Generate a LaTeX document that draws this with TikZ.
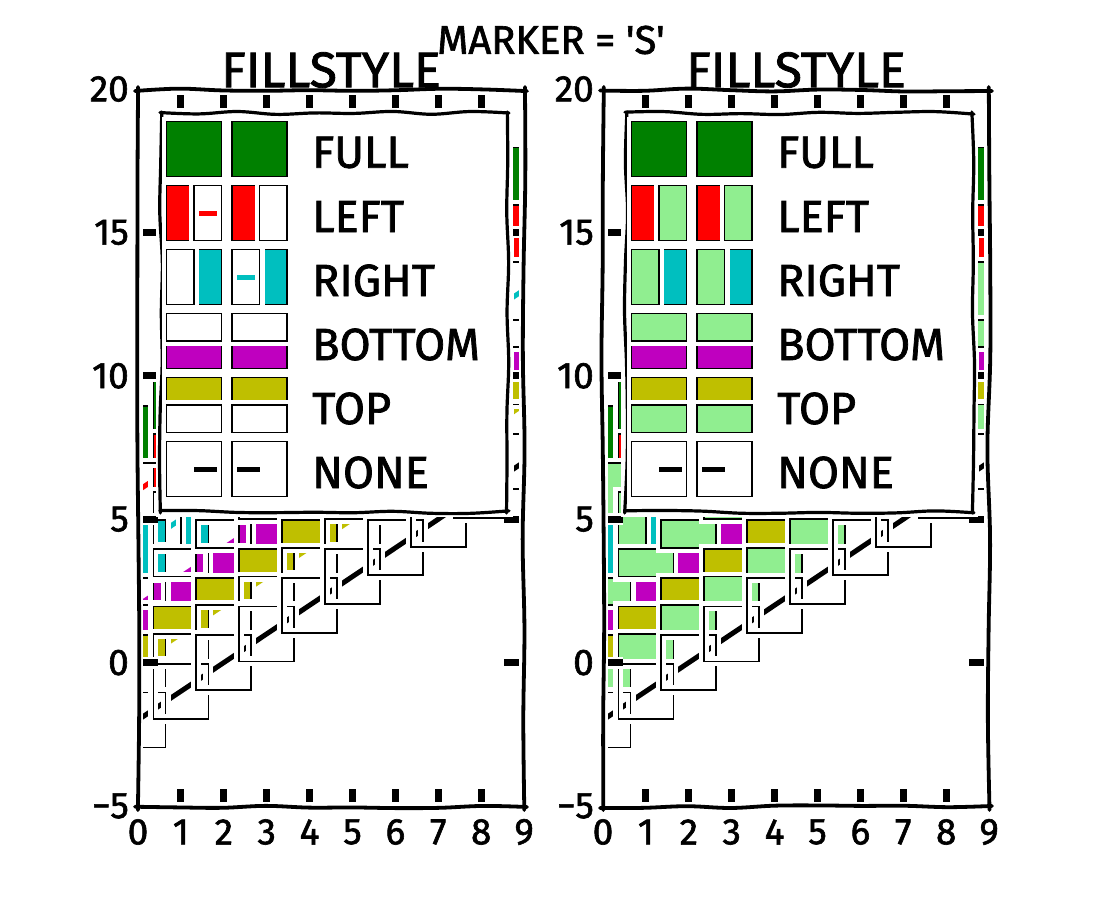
\documentclass[tikz,border=0pt]{standalone}
\usepackage{fontspec}
\setmainfont{Fira Sans}
\newfontfamily\hand{Fira Sans}[FakeBold=1.6]
\definecolor{mg}{rgb}{0,0.5,0}
\definecolor{mr}{rgb}{1,0,0}
\definecolor{mc}{rgb}{0,0.75,0.75}
\definecolor{mm}{rgb}{0.75,0,0.75}
\definecolor{my}{rgb}{0.75,0.75,0}
\definecolor{lgreen}{HTML}{90EE90}
\tikzset{
  spine/.style={draw=black, line width=3.8pt, line cap=round},
  legedge/.style={draw=black, line width=3.2pt, line cap=round},
  tickm/.style={draw=black, line width=7pt, preaction={draw=white, line width=12pt}},
  wst/.style={draw=white, line width=10pt},
  medge/.style={draw=black, line width=1.8pt},
  dline/.style={line width=5pt, preaction={draw=white, line width=10pt}},
  ticklab/.style={font=\hand\fontsize{37}{37}\selectfont, inner sep=0pt},
  leglab/.style={font=\hand\fontsize{45}{45}\selectfont, inner sep=0pt, anchor=west},
  ttl/.style={font=\hand\fontsize{50}{50}\selectfont, inner sep=0pt},
}
\newcommand{\hh}{27.5}
% wobbly vertical line: x, y1, y2, style
\newcommand{\wobv}[4]{\draw[#4] plot[smooth, tension=0.6, variable=\t, samples=9, domain=0:1] ({(#1)+1.6*rand},{(#2)+((#3)-(#2))*\t});}
% wobbly horizontal line: y, x1, x2, style
\newcommand{\wobh}[4]{\draw[#4] plot[smooth, tension=0.6, variable=\t, samples=10, domain=0:1] ({(#2)+((#3)-(#2))*\t},{(#1)+1.6*rand});}
\newcommand{\panel}[2]{%
  % data
  \begin{scope}
    \clip (138+#1,90) rectangle (524+#1,807);
    \foreach \off/\col/\mf/\ma/\mb/\mc/\md/\ha/\aa/\ab/\ac/\ad in {
      8/mg/mg/-1/-1/1/1/0/0/0/0/0,
      6/mr/mr/-1/-1/0/1/1/0/-1/1/1,
      4/mc/mc/0/-1/1/1/1/-1/-1/0/1,
      2/mm/mm/-1/0/1/1/1/-1/-1/1/0,
      0/my/my/-1/-1/1/0/1/-1/0/1/1,
      -2/black/none/-1/-1/1/1/0/0/0/0/0}{
      \draw[dline, draw=\col] ({138+#1},{662.6-28.68*(\off)}) -- ({138+#1+42.9*9},{662.6-28.68*(\off+9)});
      \foreach \i in {0,...,9}{
        \pgfmathsetmacro{\cx}{138+#1+42.9*\i}
        \pgfmathsetmacro{\cy}{662.6-28.68*(\off+\i)}
        \draw[wst] ({\cx+(\ma)*\hh},{\cy+(\mb)*\hh}) rectangle ({\cx+(\mc)*\hh},{\cy+(\md)*\hh});
        \draw[medge, fill=\mf] ({\cx+(\ma)*\hh},{\cy+(\mb)*\hh}) rectangle ({\cx+(\mc)*\hh},{\cy+(\md)*\hh});
      }
      \ifnum\ha=1
      \foreach \i in {0,...,9}{
        \pgfmathsetmacro{\cx}{138+#1+42.9*\i}
        \pgfmathsetmacro{\cy}{662.6-28.68*(\off+\i)}
        \draw[wst] ({\cx+(\aa)*\hh},{\cy+(\ab)*\hh}) rectangle ({\cx+(\ac)*\hh},{\cy+(\ad)*\hh});
        \draw[medge, fill=#2] ({\cx+(\aa)*\hh},{\cy+(\ab)*\hh}) rectangle ({\cx+(\ac)*\hh},{\cy+(\ad)*\hh});
      }
      \fi
    }
  \end{scope}
  % ticks
  \foreach \i in {1,...,8}{
    \draw[tickm] ({138+#1+42.9*\i},90) -- ({138+#1+42.9*\i},108);
    \draw[tickm] ({138+#1+42.9*\i},789) -- ({138+#1+42.9*\i},807);
  }
  \foreach \v in {0,5,10,15}{
    \draw[tickm] ({138+#1},{662.6-28.68*\v}) -- ({158+#1},{662.6-28.68*\v});
    \draw[tickm] ({504+#1},{662.6-28.68*\v}) -- ({524+#1},{662.6-28.68*\v});
  }
  % spines
  \draw[wst] (138+#1,90) rectangle (524+#1,807);
  \wobv{138+#1}{87}{810}{spine}
  \wobv{524+#1}{87}{810}{spine}
  \wobh{90}{135+#1}{527+#1}{spine}
  \wobh{807}{135+#1}{527+#1}{spine}
  % legend
  \draw[wst] (161+#1,113) rectangle (508+#1,512);
  \fill[white] (161+#1,113) rectangle (508+#1,512);
  \wobv{161+#1}{112}{513}{legedge}
  \wobv{508+#1}{112}{513}{legedge}
  \wobh{113}{160+#1}{509+#1}{legedge}
  \wobh{512}{160+#1}{509+#1}{legedge}
  \foreach \r/\col/\mf/\ma/\mb/\mc/\md/\ha/\aa/\ab/\ac/\ad/\name in {
      0/mg/mg/-1/-1/1/1/0/0/0/0/0/FULL,
      1/mr/mr/-1/-1/0/1/1/0/-1/1/1/LEFT,
      2/mc/mc/0/-1/1/1/1/-1/-1/0/1/RIGHT,
      3/mm/mm/-1/0/1/1/1/-1/-1/1/0/BOTTOM,
      4/my/my/-1/-1/1/0/1/-1/0/1/1/TOP,
      5/black/none/-1/-1/1/1/0/0/0/0/0/NONE}{
    \pgfmathsetmacro{\yc}{149+64*\r}
    \coordinate (la-\r-#1) at ({194+#1},\yc);
    \coordinate (lb-\r-#1) at ({259.5+#1},\yc);
    \draw[dline, draw=\col] (la-\r-#1) -- (lb-\r-#1);
    \foreach \cx in {194,259.5}{
      \draw[wst] ({\cx+#1+(\ma)*\hh},{\yc+(\mb)*\hh}) rectangle ({\cx+#1+(\mc)*\hh},{\yc+(\md)*\hh});
      \draw[medge, fill=\mf] ({\cx+#1+(\ma)*\hh},{\yc+(\mb)*\hh}) rectangle ({\cx+#1+(\mc)*\hh},{\yc+(\md)*\hh});
    }
    \ifnum\ha=1
    \foreach \cx in {194,259.5}{
      \draw[wst] ({\cx+#1+(\aa)*\hh},{\yc+(\ab)*\hh}) rectangle ({\cx+#1+(\ac)*\hh},{\yc+(\ad)*\hh});
      \draw[medge, fill=#2] ({\cx+#1+(\aa)*\hh},{\yc+(\ab)*\hh}) rectangle ({\cx+#1+(\ac)*\hh},{\yc+(\ad)*\hh});
    }
    \fi
    \node[leglab] (leg-\r-#1) at ({312+#1},{\yc+3.5}) {\name};
  }
  % tick labels
  \foreach \i in {0,...,9}{
    \node[ticklab] (xl-\i-#1) at ({138+#1+42.9*\i},832) {\i};
  }
  \foreach \v/\t in {-5/−5,0/0,5/5,10/10,15/15,20/20}{
    \node[ticklab, anchor=east] (yl-\v-#1) at ({129+#1},{662.6-28.68*(\v)}) {\t};
  }
  \node[ttl] (title-#1) at ({331+#1},70) {FILLSTYLE};
}
\begin{document}
\begin{tikzpicture}[x=1pt,y=-1pt]
  \pgfmathsetseed{11}
  \useasboundingbox[fill=white] (0,0) rectangle (1100,900);
  \panel{0}{none}
  \panel{465}{lgreen}
  \node[font=\hand\fontsize{40}{40}\selectfont, inner sep=0pt] (suptitle) at (551,40) {MARKER = 'S'};
\end{tikzpicture}
\end{document}
